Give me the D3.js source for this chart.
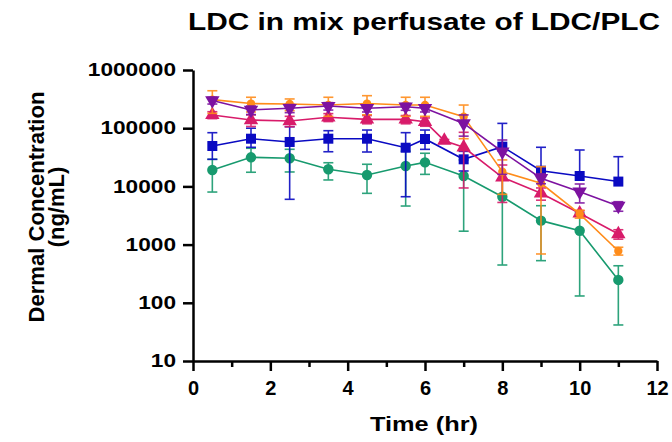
<!DOCTYPE html>
<html>
<head>
<meta charset="utf-8">
<script src="https://cdn.jsdelivr.net/npm/d3@7"></script>
<style>
  body { margin: 0; background: #fff; }
  text { font-family: 'Liberation Sans', Arial, sans-serif; font-weight: bold; fill: #000; }
</style>
</head>
<body>
<script>
// sampling times (hr); the pink series has one extra sample at 6.5 h
var times = [0.5, 1.5, 2.5, 3.5, 4.5, 5.5, 6, 7, 8, 9, 10, 11];
var pinkTimes = [0.5, 1.5, 2.5, 3.5, 4.5, 5.5, 6, 6.5, 7, 8, 9, 10, 11];

var xTicks = [0, 2, 4, 6, 8, 10, 12];
var xMinorTicks = [1, 3, 5, 7, 9, 11];
var yTicks = [10, 100, 1000, 10000, 100000, 1000000];

// mean values and error-bar ends (ng/mL)
var orangeMean = [310000, 265000, 260000, 250000, 265000, 250000, 250000, 158000, 17900, 11300, 3360, 776];
var orangeHi = [440000, 340000, 318000, 340000, 362000, 340000, 340000, 250000, 28500, 21800, 3900, 900];
var orangeLo = [180000, 190000, 200000, 160000, 170000, 160000, 160000, 66000, 7300, 690, 2850, 660];

var purpleMean = [300000, 206000, 220000, 240000, 220000, 234000, 220000, 121000, 39400, 13800, 8100, 4600];
var purpleHi = [340000, 240000, 255000, 275000, 250000, 265000, 250000, 169000, 62700, 16500, 11000, 5460];
var purpleLo = [260000, 172000, 185000, 205000, 190000, 203000, 190000, 73000, 16100, 11100, 5200, 3740];

var pinkMean = [169000, 138000, 133000, 154000, 142000, 142000, 129000, 61000, 47000, 14300, 7600, 3450, 1520];
var pinkHi = [192000, 169000, 160000, 178000, 165000, 165000, 150000, 64000, 85000, 23300, 9400, 3800, 1800];
var pinkLo = [146000, 107000, 106000, 130000, 119000, 119000, 108000, 58000, 9400, 5300, 5800, 3100, 1240];

var blueMean = [49400, 66000, 58000, 66000, 66000, 46200, 65200, 29200, 48200, 18600, 15100, 12100];
var blueHi = [83700, 100000, 106000, 90600, 93000, 83800, 93000, 40000, 121000, 47000, 42200, 32400];
var blueLo = [29200, 47000, 6000, 39400, 39000, 6650, 43300, 18400, 48200, 18600, 15100, 12100];

var greenMean = [19100, 31600, 30400, 19700, 15700, 22400, 25900, 15100, 6650, 2580, 1730, 247];
var greenHi = [29200, 45200, 43400, 25500, 24000, 40200, 37100, 28500, 12850, 4660, 3500, 433];
var greenLo = [8000, 17500, 17700, 12900, 7600, 4600, 16100, 1700, 446, 530, 131, 41.6];

var series = [
  {name: 'green', color: '#179a6e', shape: 'circle', t: times, mean: greenMean, hi: greenHi, lo: greenLo},
  {name: 'blue', color: '#0a0ac2', shape: 'square', t: times, mean: blueMean, hi: blueHi, lo: blueLo},
  {name: 'pink', color: '#d81b6a', shape: 'up', t: pinkTimes, mean: pinkMean, hi: pinkHi, lo: pinkLo},
  {name: 'orange', color: '#ff8c1a', shape: 'small', t: times, mean: orangeMean, hi: orangeHi, lo: orangeLo},
  {name: 'purple', color: '#7d12a0', shape: 'down', t: times, mean: purpleMean, hi: purpleHi, lo: purpleLo}
];

var width = 672, height = 442;
var plotLeft = 193, plotRight = 657, plotTop = 70, plotBottom = 361;

var svg = d3.select('body')
  .append('svg')
  .attr('width', width)
  .attr('height', height);

var xScale = d3.scaleLinear().domain([0, 12]).range([plotLeft, plotRight]);
var yScale = d3.scaleLog().domain([10, 1000000]).range([plotBottom, plotTop]);

// axes
var xAxis = svg.append('g')
  .attr('transform', 'translate(0,' + plotBottom + ')')
  .call(d3.axisBottom(xScale).tickValues(xTicks).tickSize(10).tickSizeOuter(0).tickPadding(10));

svg.append('g')
  .attr('transform', 'translate(0,' + plotBottom + ')')
  .call(d3.axisBottom(xScale).tickValues(xMinorTicks).tickSize(6).tickSizeOuter(0).tickFormat(''))
  .call((g) => g.select('.domain').remove());

var yAxis = svg.append('g')
  .attr('transform', 'translate(' + plotLeft + ',0)')
  .call(d3.axisLeft(yScale).tickValues(yTicks).tickFormat(d3.format('d')).tickSize(10).tickSizeOuter(0).tickPadding(7));

svg.selectAll('.domain, .tick line')
  .attr('stroke', '#000')
  .attr('stroke-width', 2.5);

xAxis.selectAll('text')
  .attr('font-size', 20)
  .attr('font-family', "'Liberation Sans', Arial, sans-serif")
  .attr('font-weight', 'bold');

yAxis.selectAll('text')
  .attr('font-size', 18)
  .attr('font-family', "'Liberation Sans', Arial, sans-serif")
  .attr('font-weight', 'bold')
  .attr('textLength', (d) => String(d).length * 12.6)
  .attr('lengthAdjust', 'spacingAndGlyphs');

// series
var symbolFor = function(shape) {
  if (shape === 'circle') return d3.symbol().type(d3.symbolCircle).size(85)();
  if (shape === 'square') return d3.symbol().type(d3.symbolSquare).size(100)();
  if (shape === 'small') return d3.symbol().type(d3.symbolCircle).size(55)();
  return d3.symbol().type(d3.symbolTriangle).size(90)();
};

var line = d3.line()
  .x((d) => xScale(d.t))
  .y((d) => yScale(d.v));

series.forEach(function(s) {
  var pts = s.t.map((t, i) => ({t: t, v: s.mean[i], hi: s.hi[i], lo: s.lo[i]}));
  var g = svg.append('g').attr('class', 'series-' + s.name);

  // error bars
  var eb = g.selectAll('.eb')
    .data(pts)
    .enter()
    .append('g')
    .attr('stroke', s.color)
    .attr('stroke-width', 1.6)
    .attr('opacity', 0.9);

  eb.append('line')
    .attr('x1', (d) => xScale(d.t))
    .attr('x2', (d) => xScale(d.t))
    .attr('y1', (d) => yScale(d.hi))
    .attr('y2', (d) => yScale(d.lo));

  eb.filter((d) => d.hi > d.v)
    .append('line')
    .attr('x1', (d) => xScale(d.t) - 5)
    .attr('x2', (d) => xScale(d.t) + 5)
    .attr('y1', (d) => yScale(d.hi))
    .attr('y2', (d) => yScale(d.hi));

  eb.filter((d) => d.lo < d.v)
    .append('line')
    .attr('x1', (d) => xScale(d.t) - 5)
    .attr('x2', (d) => xScale(d.t) + 5)
    .attr('y1', (d) => yScale(d.lo))
    .attr('y2', (d) => yScale(d.lo));

  g.append('path')
    .datum(pts)
    .attr('fill', 'none')
    .attr('stroke', s.color)
    .attr('stroke-width', 1.6)
    .attr('d', line);

  g.selectAll('.mark')
    .data(pts)
    .enter()
    .append('path')
    .attr('fill', s.color)
    .attr('d', symbolFor(s.shape))
    .attr('transform', (d) => 'translate(' + xScale(d.t) + ',' + yScale(d.v) + ')' + (s.shape === 'down' ? ' rotate(180)' : ''));
});

// titles
svg.append('text')
  .attr('x', 424)
  .attr('y', 30)
  .attr('text-anchor', 'middle')
  .attr('font-size', 24)
  .attr('textLength', 472)
  .attr('lengthAdjust', 'spacingAndGlyphs')
  .text('LDC in mix perfusate of LDC/PLC');

svg.append('text')
  .attr('x', 424)
  .attr('y', 431)
  .attr('text-anchor', 'middle')
  .attr('font-size', 21)
  .attr('textLength', 108)
  .attr('lengthAdjust', 'spacingAndGlyphs')
  .text('Time (hr)');

var yTitle = svg.append('text')
  .attr('transform', 'translate(44,207) rotate(-90)')
  .attr('text-anchor', 'middle')
  .attr('font-size', 22);

yTitle.append('tspan')
  .attr('x', 0)
  .attr('y', 0)
  .attr('textLength', 231)
  .attr('lengthAdjust', 'spacingAndGlyphs')
  .text('Dermal Concentration');

yTitle.append('tspan')
  .attr('x', 0)
  .attr('y', 20)
  .text('(ng/mL)');
</script>
</body>
</html>
